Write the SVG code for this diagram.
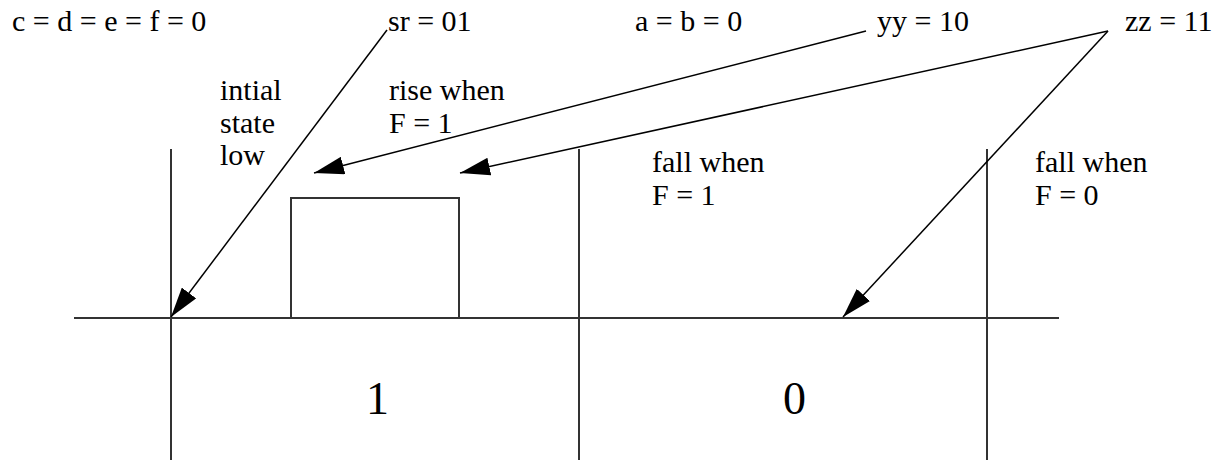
<svg xmlns="http://www.w3.org/2000/svg" width="1227" height="460" viewBox="0 0 1227 460">
<style>
text{font-family:'Liberation Serif','Times New Roman',serif;font-size:30px;fill:#000}
.big{font-size:46px}
.frame{stroke:#333;stroke-width:2;fill:none}
.arr{stroke:#000;stroke-width:1.5;fill:none;marker-end:url(#ah)}
</style>
<defs>
<marker id="ah" viewBox="0 0 30 18" refX="30" refY="9" markerWidth="30" markerHeight="18" markerUnits="userSpaceOnUse" orient="auto">
<path d="M0,0 L30,9 L0,18 z" fill="#000"/>
</marker>
</defs>
<rect width="1227" height="460" fill="#fff"/>
<g id="axes">
<line class="frame" x1="74" y1="318" x2="1059" y2="318"/>
<line class="frame" x1="171" y1="149" x2="171" y2="460"/>
<line class="frame" x1="579" y1="149" x2="579" y2="460"/>
<line class="frame" x1="987" y1="149" x2="987" y2="460"/>
</g>
<g id="waveform">
<polyline class="frame" points="171,318 291,318 291,198 459,198 459,318"/>
</g>
<g id="labels">
<text x="12" y="31">c = d = e = f = 0</text>
<text x="388" y="31">sr = 01</text>
<text x="635" y="31">a = b = 0</text>
<text x="877" y="31">yy = 10</text>
<text x="1125" y="31">zz = 11</text>
<text x="220" y="100">intial</text>
<text x="220" y="133">state</text>
<text x="220" y="165">low</text>
<text x="389" y="100">rise when</text>
<text x="389" y="133">F = 1</text>
<text x="652" y="172">fall when</text>
<text x="652" y="205">F = 1</text>
<text x="1035" y="172">fall when</text>
<text x="1035" y="205">F = 0</text>
<text class="big" x="366" y="414">1</text>
<text class="big" x="783" y="414">0</text>
</g>
<g id="connectors">
<line class="arr" x1="387" y1="30" x2="171" y2="317"/>
<line class="arr" x1="866" y1="31" x2="314" y2="173"/>
<line class="arr" x1="1108" y1="31" x2="460" y2="173"/>
<line class="arr" x1="1108" y1="31" x2="843" y2="317"/>
</g>
</svg>
